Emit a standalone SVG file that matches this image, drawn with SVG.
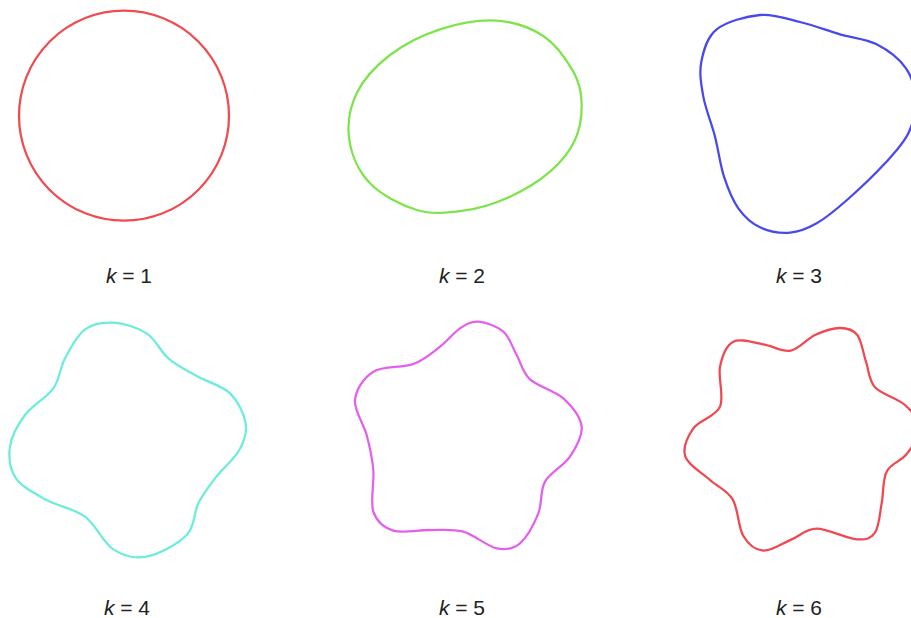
<svg xmlns="http://www.w3.org/2000/svg" width="911" height="618" viewBox="0 0 911 618">
<style>
.c{fill:none;stroke-width:6.8;stroke-linejoin:round}
.lbl{font-family:"Liberation Sans",Arial,sans-serif;font-size:21px;fill:#222222;text-anchor:middle}
.k{font-style:italic}
</style>
<rect width="911" height="618" fill="#ffffff"/>
<g id="shape-k1">
<circle cx="124" cy="115.7" r="105" fill="none" stroke="#f04b50" stroke-width="2.25"/>
</g>
<g id="shape-k2" transform="translate(330,0) scale(0.333333)">
<path class="c" stroke="#7ee44c" d="M500,62 C551.7,65.3 601.7,82.5 640,108 C678.3,133.5 710.8,181.3 730,215 C749.2,248.7 754.2,275.8 755,310 C755.8,344.2 750.8,385.8 735,420 C719.2,454.2 692.5,486.7 660,515 C627.5,543.3 583.3,570.5 540,590 C496.7,609.5 446.7,625.3 400,632 C353.3,638.7 306.7,643.7 260,630 C213.3,616.3 153.7,585 120,550 C86.3,515 64.7,465 58,420 C51.3,375 59.7,322.5 80,280 C100.3,237.5 138.3,197 180,165 C221.7,133 276.7,105.2 330,88 C383.3,70.8 448.3,58.7 500,62 Z"/>
</g>
<g id="shape-k3" transform="translate(660,0) scale(0.333333)">
<path class="c" stroke="#4848f0" d="M300,45 C341.7,41.3 380,56.3 420,66 C460,75.7 501.7,91.8 540,103 C578.3,114.2 617,116 650,133 C683,150 718.7,177.2 738,205 C757.3,232.8 764.8,267.5 766,300 C767.2,332.5 760.2,368.3 745,400 C729.8,431.7 705.7,456.7 675,490 C644.3,523.3 595.2,570 561,600 C526.8,630 498.5,653.7 470,670 C441.5,686.3 418.3,696 390,698 C361.7,700 325.8,694.2 300,682 C274.2,669.8 253,650.3 235,625 C217,599.7 203.7,565.8 192,530 C180.3,494.2 175.3,450 165,410 C154.7,370 136.8,327.5 130,290 C123.2,252.5 117.3,218.7 124,185 C130.7,151.3 140.7,111.3 170,88 C199.3,64.7 258.3,48.7 300,45 Z"/>
</g>
<g id="shape-k4" transform="translate(0,300) scale(0.333333)">
<path class="c" stroke="#6cecdc" d="M340,68 C370.8,70 412.5,82.2 440,100 C467.5,117.8 480,153.7 505,175 C530,196.3 559.2,210.5 590,228 C620.8,245.5 665.5,256.3 690,280 C714.5,303.7 732.3,341.7 737,370 C741.7,398.3 733.3,422.5 718,450 C702.7,477.5 665.5,508.3 645,535 C624.5,561.7 609.2,581.7 595,610 C580.8,638.3 585.8,678.3 560,705 C534.2,731.7 476.7,762.8 440,770 C403.3,777.2 370.8,768 340,748 C309.2,728 288.3,674.7 255,650 C221.7,625.3 174.5,619.2 140,600 C105.5,580.8 66.3,561.7 48,535 C29.7,508.3 25.5,471.7 30,440 C34.5,408.3 53.3,374.2 75,345 C96.7,315.8 140,293.3 160,265 C180,236.7 179.2,204.5 195,175 C210.8,145.5 230.8,105.8 255,88 C279.2,70.2 309.2,66 340,68 Z"/>
</g>
<g id="shape-k5" transform="translate(330,300) scale(0.333333)">
<path class="c" stroke="#e460ec" d="M445,65 C466.7,66.7 500.8,78.3 520,95 C539.2,111.7 546.7,141.2 560,165 C573.3,188.8 576.7,216.3 600,238 C623.3,259.7 674.2,271.3 700,295 C725.8,318.7 751.7,350.8 755,380 C758.3,409.2 738.3,442.5 720,470 C701.7,497.5 660.8,516.7 645,545 C629.2,573.3 637.5,609.2 625,640 C612.5,670.8 590.8,712.5 570,730 C549.2,747.5 528.3,750.8 500,745 C471.7,739.2 433.3,704.2 400,695 C366.7,685.8 335,690.5 300,690 C265,689.5 218.3,701.2 190,692 C161.7,682.8 140,665.3 130,635 C120,604.7 133.3,548.3 130,510 C126.7,471.7 119.2,440 110,405 C100.8,370 71.7,331.7 75,300 C78.3,268.3 100.8,233 130,215 C159.2,197 216.7,204.5 250,192 C283.3,179.5 306.7,157.8 330,140 C353.3,122.2 370.8,97.5 390,85 C409.2,72.5 423.3,63.3 445,65 Z"/>
</g>
<g id="shape-k6" transform="translate(660,300) scale(0.333333)">
<path class="c" stroke="#f04850" d="M540,84 C561.2,84 579,88.2 592,105 C605,121.8 609.2,158.8 618,185 C626.8,211.2 625.5,240.3 645,262 C664.5,283.7 712.5,294.5 735,315 C757.5,335.5 779.2,360.5 780,385 C780.8,409.5 756.7,440.3 740,462 C723.3,483.7 692.5,490.3 680,515 C667.5,539.7 670.8,579.5 665,610 C659.2,640.5 657.5,680 645,698 C632.5,716 619.2,720 590,718 C560.8,716 502.5,686 470,686 C437.5,686 421.7,707 395,718 C368.3,729 334.2,753.7 310,752 C285.8,750.3 265.3,733.7 250,708 C234.7,682.3 234.7,626 218,598 C201.3,570 173.7,561.3 150,540 C126.3,518.7 84.3,495.8 76,470 C67.7,444.2 82.7,410 100,385 C117.3,360 166.7,350.8 180,320 C193.3,289.2 173.3,232.5 180,200 C186.7,167.5 198.3,136.2 220,125 C241.7,113.8 281.3,128.5 310,133 C338.7,137.5 366.2,156.7 392,152 C417.8,147.3 440.3,116.3 465,105 C489.7,93.7 518.8,84 540,84 Z"/>
</g>
<g id="labels">
<text class="lbl" x="129" y="283"><tspan class="k">k</tspan> = 1</text>
<text class="lbl" x="462" y="283"><tspan class="k">k</tspan> = 2</text>
<text class="lbl" x="799" y="283"><tspan class="k">k</tspan> = 3</text>
<text class="lbl" x="127" y="615"><tspan class="k">k</tspan> = 4</text>
<text class="lbl" x="462" y="615"><tspan class="k">k</tspan> = 5</text>
<text class="lbl" x="799" y="615"><tspan class="k">k</tspan> = 6</text>
</g>
</svg>
